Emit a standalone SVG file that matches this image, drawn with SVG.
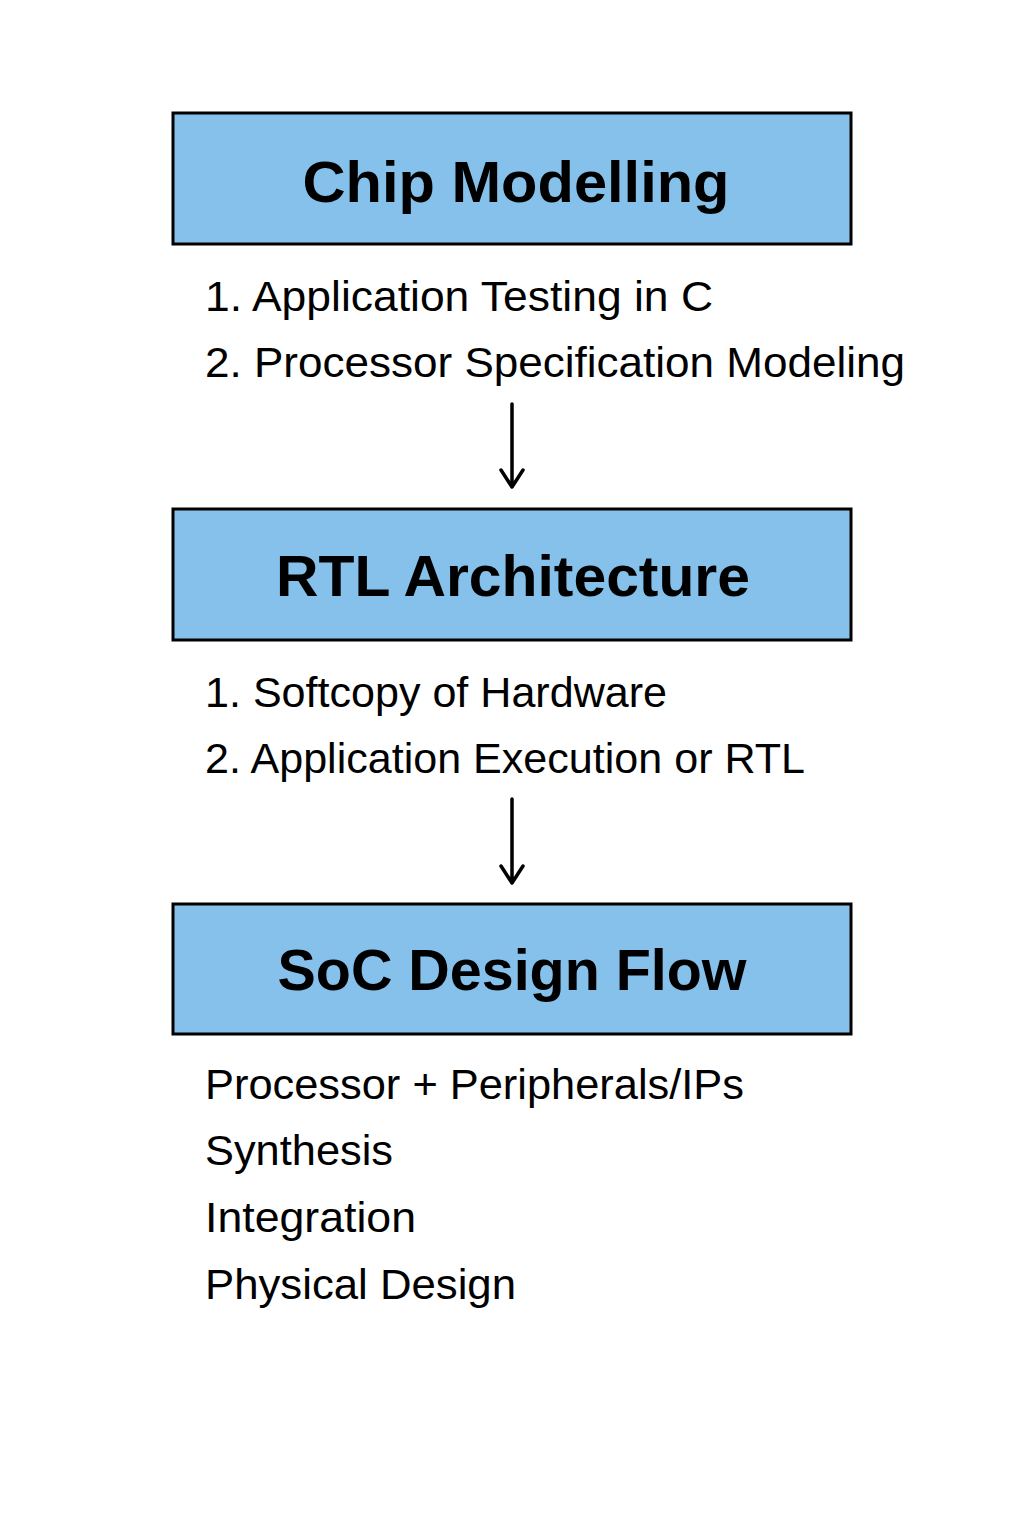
<svg xmlns="http://www.w3.org/2000/svg" width="1024" height="1536" viewBox="0 0 1024 1536">
<style>
.box{fill:#85C1EA;stroke:#000;stroke-width:3}
.title{font-family:"Liberation Sans",Arial,sans-serif;font-weight:bold;font-size:58px;fill:#000;text-anchor:middle}
.body{font-family:"Liberation Sans",Arial,sans-serif;font-size:42px;fill:#000}
.conn{fill:none;stroke:#000;stroke-width:3.5;stroke-linecap:round;stroke-linejoin:round}
</style>
<rect width="1024" height="1536" fill="#fff"/>
<g id="node-chip-modelling">
<rect class="box" x="173" y="113" width="678" height="131"/>
<text class="title" x="516" y="202" textLength="427" lengthAdjust="spacingAndGlyphs">Chip Modelling</text>
<text class="body" x="205" y="311" textLength="508" lengthAdjust="spacingAndGlyphs">1. Application Testing in C</text>
<text class="body" x="205" y="377" textLength="700" lengthAdjust="spacingAndGlyphs">2. Processor Specification Modeling</text>
</g>
<g id="node-rtl-architecture">
<rect class="box" x="173" y="509" width="678" height="131"/>
<text class="title" x="513" y="596" textLength="474" lengthAdjust="spacingAndGlyphs">RTL Architecture</text>
<text class="body" x="205" y="707" textLength="462" lengthAdjust="spacingAndGlyphs">1. Softcopy of Hardware</text>
<text class="body" x="205" y="773" textLength="600" lengthAdjust="spacingAndGlyphs">2. Application Execution or RTL</text>
</g>
<g id="node-soc-design-flow">
<rect class="box" x="173" y="904" width="678" height="130"/>
<text class="title" x="512" y="990" textLength="469" lengthAdjust="spacingAndGlyphs">SoC Design Flow</text>
<text class="body" x="205" y="1099" textLength="539" lengthAdjust="spacingAndGlyphs">Processor + Peripherals/IPs</text>
<text class="body" x="205" y="1165" textLength="188" lengthAdjust="spacingAndGlyphs">Synthesis</text>
<text class="body" x="205" y="1232" textLength="211" lengthAdjust="spacingAndGlyphs">Integration</text>
<text class="body" x="205" y="1299" textLength="311" lengthAdjust="spacingAndGlyphs">Physical Design</text>
</g>
<g id="connectors">
<path class="conn" d="M512 404 V487 M501 470 L512 487 L523 470"/>
<path class="conn" d="M512 799 V883 M501 866 L512 883 L523 866"/>
</g>
</svg>
